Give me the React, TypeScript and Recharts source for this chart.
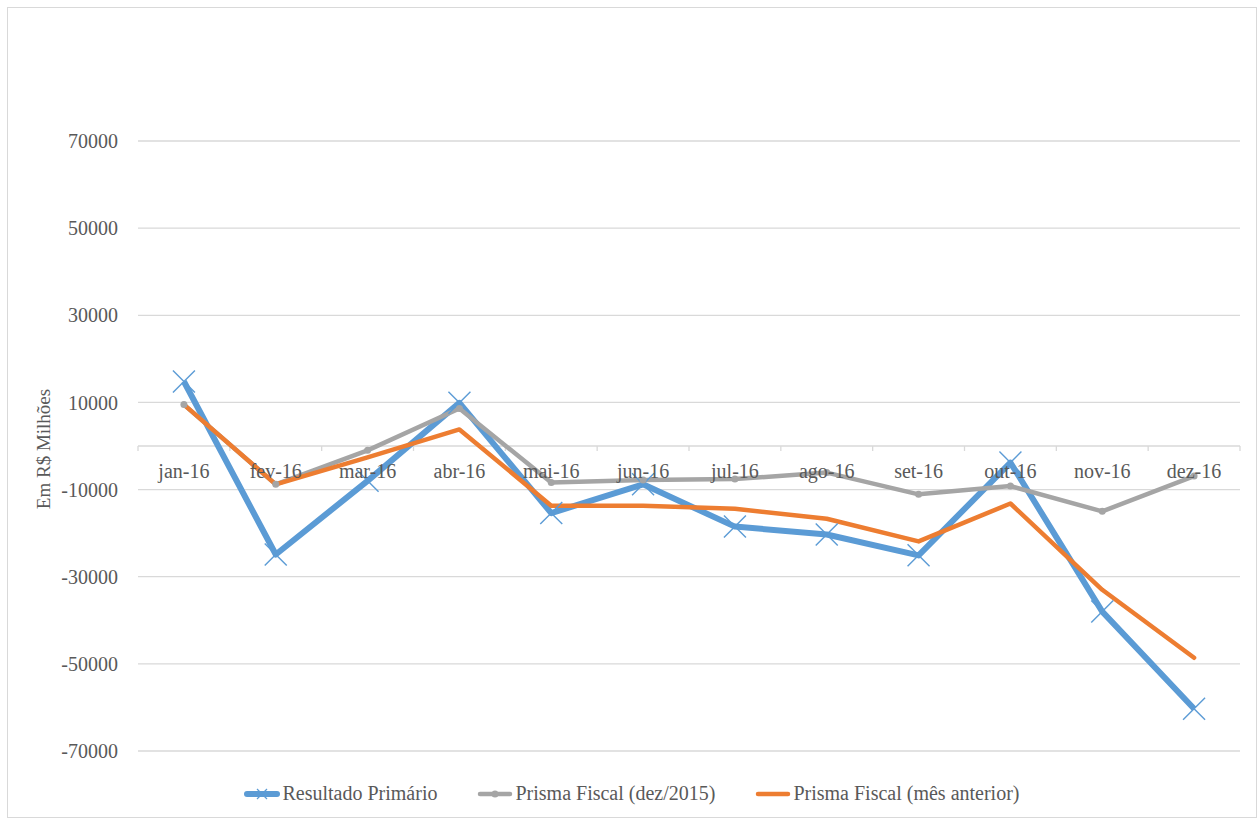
import React from 'react';
import { LineChart, Line, XAxis, YAxis, CartesianGrid, ReferenceLine, ReferenceDot } from 'recharts';

const months = ['jan-16', 'fev-16', 'mar-16', 'abr-16', 'mai-16', 'jun-16', 'jul-16', 'ago-16', 'set-16', 'out-16', 'nov-16', 'dez-16'];
const resultadoPrimario = [14800, -24900, -8000, 9900, -15400, -8800, -18500, -20300, -25100, -3800, -38000, -60300];
const prismaDez2015 = [9500, -8800, -1000, 8600, -8400, -7800, -7600, -6100, -11100, -9200, -15000, -6900];
const prismaMesAnterior = [9500, -8800, -2600, 3800, -13700, -13700, -14400, -16700, -21900, -13200, -33000, -48600];
const yTicks = [-70000, -50000, -30000, -10000, 10000, 30000, 50000, 70000];

const data = months.map((m, i) => ({
  month: m,
  resultado: resultadoPrimario[i],
  dez2015: prismaDez2015[i],
  mesAnterior: prismaMesAnterior[i],
}));

const FONT = 'Liberation Serif, DejaVu Serif, serif';
const TEXT = '#595959';
const GRID = '#d9d9d9';
const BLUE = '#5B9BD5';
const GRAY = '#A5A5A5';
const ORANGE = '#ED7D31';

const CrossDot = (props: any) => {
  const { cx, cy, index } = props;
  if (cx == null || cy == null) return null;
  const s = 11;
  return (
    <g key={`x-${index}`}>
      <line x1={cx - s} y1={cy - s} x2={cx + s} y2={cy + s} stroke={BLUE} strokeWidth={1.4} />
      <line x1={cx - s} y1={cy + s} x2={cx + s} y2={cy - s} stroke={BLUE} strokeWidth={1.4} />
    </g>
  );
};

// Category axis drawn along the zero line, with tick marks at band boundaries
const ZeroAxis = (props: any) => {
  const { x1, y1, x2 } = props;
  const n = months.length;
  const w = (x2 - x1) / n;
  return (
    <g>
      <line x1={x1} y1={y1} x2={x2} y2={y1} stroke={GRID} strokeWidth={1.3} />
      {Array.from({ length: n + 1 }, (_, i) => (
        <line key={i} x1={x1 + i * w} y1={y1} x2={x1 + i * w} y2={y1 + 5} stroke={GRID} strokeWidth={1.3} />
      ))}
    </g>
  );
};

const YLabel = (props: any) => {
  const { viewBox } = props;
  const x = viewBox.x + 5;
  const y = viewBox.y + viewBox.height / 2 + 3;
  return (
    <text
      x={x}
      y={y}
      transform={`rotate(-90, ${x}, ${y})`}
      textAnchor="middle"
      dominantBaseline="central"
      fill={TEXT}
      fontSize={19}
      style={{ fontFamily: FONT }}
    >
      Em R$ Milhões
    </text>
  );
};

const legendItems = [
  { name: 'Resultado Primário', color: BLUE, width: 6, marker: 'x' },
  { name: 'Prisma Fiscal (dez/2015)', color: GRAY, width: 4.5, marker: 'dot' },
  { name: 'Prisma Fiscal (mês anterior)', color: ORANGE, width: 4.5, marker: 'none' },
];

const LegendIcon = ({ color, width, marker }: { color: string; width: number; marker: string }) => (
  <svg width={36} height={20} style={{ display: 'block' }}>
    <line x1={3} y1={10} x2={33} y2={10} stroke={color} strokeWidth={width} strokeLinecap="round" />
    {marker === 'x' && (
      <g stroke={color} strokeWidth={1.2}>
        <line x1={13} y1={5} x2={23} y2={15} />
        <line x1={13} y1={15} x2={23} y2={5} />
      </g>
    )}
    {marker === 'dot' && <circle cx={18} cy={10} r={3.5} fill={color} />}
  </svg>
);

const tickStyle = { fill: TEXT, fontSize: 20, style: { fontFamily: FONT } };

export default function App() {
  return (
    <div
      style={{
        position: 'absolute',
        left: 7,
        top: 7,
        width: 1248,
        height: 809,
        border: `1px solid ${GRID}`,
        background: '#fff',
        fontFamily: FONT,
      }}
    >
      <LineChart
        width={1248}
        height={809}
        data={data}
        margin={{ top: 133, right: 16, bottom: 66, left: 30 }}
        style={{ fontFamily: FONT }}
      >
        <CartesianGrid horizontal vertical={false} stroke={GRID} strokeWidth={1.3} />
        <XAxis dataKey="month" scale="band" hide />
        <YAxis
          type="number"
          domain={[-70000, 70000]}
          ticks={yTicks}
          width={100}
          axisLine={false}
          tickLine={false}
          tickSize={0}
          tickMargin={20}
          tick={tickStyle}
          label={<YLabel />}
        />
        <ReferenceLine y={0} shape={<ZeroAxis />} />
        {months.map((m) => (
          <ReferenceDot
            key={m}
            x={m}
            y={0}
            r={0}
            fill="none"
            stroke="none"
            label={{ value: m, position: 'bottom', offset: 18, fill: TEXT, fontSize: 20, style: { fontFamily: FONT } }}
          />
        ))}
        <Line
          type="linear"
          dataKey="resultado"
          stroke={BLUE}
          strokeWidth={6}
          strokeLinejoin="round"
          dot={<CrossDot />}
          activeDot={false}
          isAnimationActive={false}
        />
        <Line
          type="linear"
          dataKey="dez2015"
          stroke={GRAY}
          strokeWidth={4.5}
          strokeLinejoin="round"
          dot={{ r: 3.5, fill: GRAY, stroke: GRAY, strokeWidth: 0 }}
          activeDot={false}
          isAnimationActive={false}
        />
        <Line
          type="linear"
          dataKey="mesAnterior"
          stroke={ORANGE}
          strokeWidth={4.5}
          strokeLinejoin="round"
          strokeLinecap="round"
          dot={false}
          activeDot={false}
          isAnimationActive={false}
        />
      </LineChart>
      <div
        style={{
          position: 'absolute',
          left: 0,
          top: 774,
          width: '100%',
          display: 'flex',
          justifyContent: 'center',
          alignItems: 'center',
          fontFamily: FONT,
          fontSize: 20,
          color: TEXT,
          gap: 40,
        }}
      >
        {legendItems.map((it) => (
          <div key={it.name} style={{ display: 'flex', alignItems: 'center', gap: 2 }}>
            <LegendIcon color={it.color} width={it.width} marker={it.marker} />
            <span>{it.name}</span>
          </div>
        ))}
      </div>
    </div>
  );
}
